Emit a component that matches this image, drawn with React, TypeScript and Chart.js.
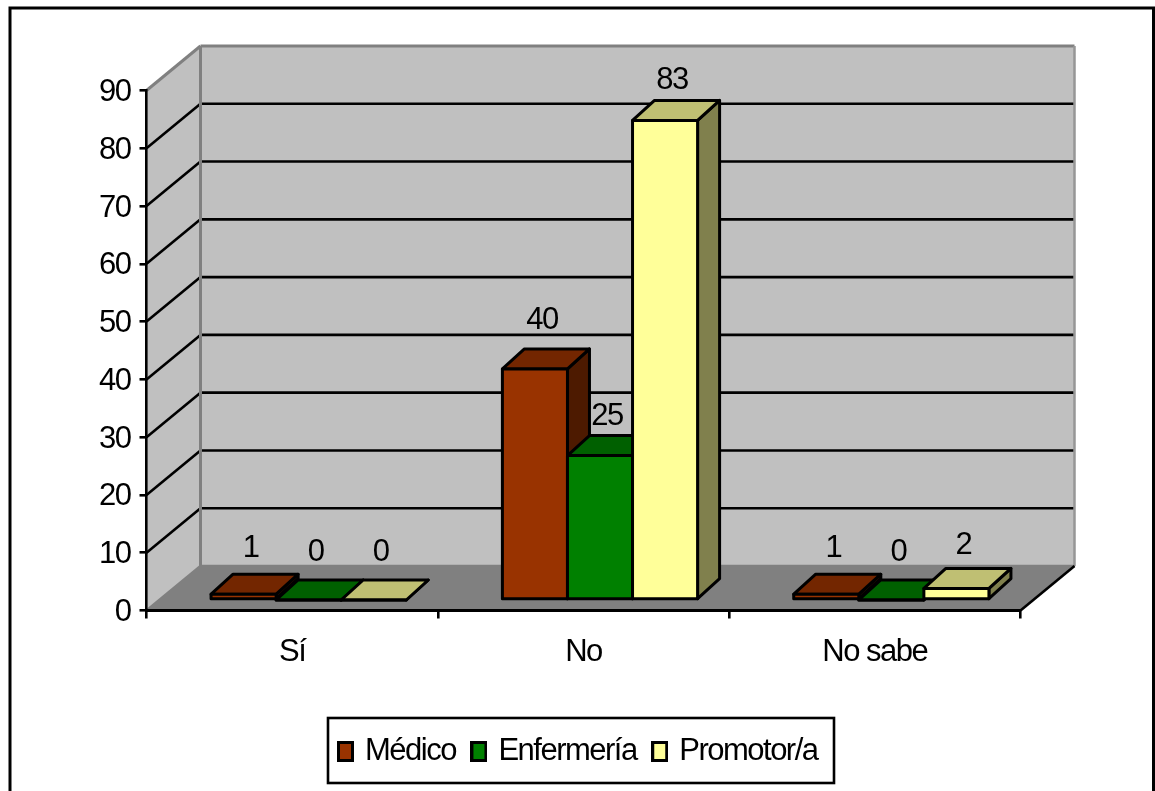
import React, { useEffect, useRef } from "react";
import { Chart, registerables } from "chart.js";

Chart.register(...registerables);

const categories = ["Sí", "No", "No sabe"];
const medico = [1, 40, 1];
const enfermeria = [0, 25, 0];
const promotor = [0, 83, 2];
const seriesNames = ["Médico", "Enfermería", "Promotor/a"];
const yTicksMax = 90;
const yTickStep = 10;

// Shades of each series: front face, top face, side face.
const frontColors = ["#993300", "#008000", "#FFFF99"];
const topColors = ["#732600", "#006000", "#BFBF73"];
const sideColors = ["#4D1A00", "#004000", "#80804D"];

// Value labels sit a little above the bar, lift in pixels per series and category.
const labelLift = [
  [46, 48, 46],
  [48, 39, 48],
  [48, 40, 43],
];

const FONT = '"Liberation Sans", Arial, sans-serif';
const FONT_SIZE = 31;
const TRACKING = "-1.5px";
const WALL_DEPTH = { x: 54, y: -44.5 }; // floor front edge to back wall
const BAR_OFFSET = { x: 16.5, y: -10.5 }; // axis plane to the plane of the bars
const BAR_DEPTH = { x: 22, y: -20 };
const LEGEND_FRAME = { x: 328, y: 718, w: 506, h: 65 };
const INK = "#000000";
const LINE = 2.6;
const BAR_LINE = 3;

const path = (ctx: any, pts: number[][], fill: string | null, stroke: string | null, width = LINE) => {
  ctx.beginPath();
  pts.forEach((p, i) => (i ? ctx.lineTo(p[0], p[1]) : ctx.moveTo(p[0], p[1])));
  ctx.closePath();
  if (fill) {
    ctx.fillStyle = fill;
    ctx.fill();
  }
  if (stroke) {
    ctx.strokeStyle = stroke;
    ctx.lineWidth = width;
    ctx.lineJoin = "round";
    ctx.stroke();
  }
};

const segment = (ctx: any, a: number[], b: number[], color: string, width = LINE) => {
  ctx.beginPath();
  ctx.moveTo(a[0], a[1]);
  ctx.lineTo(b[0], b[1]);
  ctx.strokeStyle = color;
  ctx.lineWidth = width;
  ctx.stroke();
};

// Legend swatch: a small outlined upright rectangle.
const makeSwatch = (color: string) => {
  const c = document.createElement("canvas");
  c.width = 17;
  c.height = 21;
  const g = c.getContext("2d") as CanvasRenderingContext2D;
  g.fillStyle = color;
  g.fillRect(1.5, 1.5, 14, 18);
  g.strokeStyle = INK;
  g.lineWidth = 3;
  g.strokeRect(1.5, 1.5, 14, 18);
  return c;
};

// Tightens all text drawn on the canvas; runs before measuring and before painting.
const trackingPlugin = {
  id: "tracking",
  beforeLayout(chart: any) {
    chart.ctx.letterSpacing = TRACKING;
  },
  beforeDraw(chart: any) {
    chart.ctx.letterSpacing = TRACKING;
  },
};

// Page frame, side wall, back wall, floor and the gridlines running across the walls.
const roomPlugin = {
  id: "room",
  beforeDraw(chart: any) {
    const { ctx, scales } = chart;
    const { x: xs, y: ys } = scales;
    const dx = WALL_DEPTH.x;
    const dy = WALL_DEPTH.y;
    const l = xs.left;
    const r = xs.right;
    const b = ys.getPixelForValue(0);
    const t = ys.getPixelForValue(yTicksMax);
    ctx.save();
    ctx.fillStyle = "#FFFFFF";
    ctx.fillRect(0, 0, chart.width, chart.height);
    ctx.strokeStyle = INK;
    ctx.lineWidth = 3;
    ctx.strokeRect(10, 8, 1143.5, 820);

    path(ctx, [[l, b], [l + dx, b + dy], [l + dx, t + dy], [l, t]], "#C0C0C0", null);
    path(ctx, [[l + dx, t + dy], [r + dx, t + dy], [r + dx, b + dy], [l + dx, b + dy]], "#C0C0C0", null);
    path(ctx, [[l, b], [l + dx, b + dy], [r + dx, b + dy], [r, b]], "#808080", null);

    for (let v = yTickStep; v < yTicksMax; v += yTickStep) {
      const y = ys.getPixelForValue(v);
      segment(ctx, [l, y], [l + dx, y + dy], INK);
      segment(ctx, [l + dx, y + dy], [r + dx, y + dy], INK);
    }

    segment(ctx, [l, t], [l + dx, t + dy], "#808080", 3);
    segment(ctx, [l + dx, t + dy], [r + dx, t + dy], "#808080", 3);
    segment(ctx, [l + dx, t + dy], [l + dx, b + dy], "#808080", 3);
    segment(ctx, [r + dx, t + dy], [r + dx, b + dy], "#969696", 2.5);
    segment(ctx, [l + dx, b + dy], [r + dx, b + dy], "#808080", 2.5);
    segment(ctx, [l, b], [l + dx, b + dy], "#808080", 2.5);
    segment(ctx, [r, b], [r + dx, b + dy], INK);
    ctx.restore();
  },
};

// Extruded bars: drawn series by series from the left so later bars overlap earlier ones.
const bars3dPlugin = {
  id: "bars3d",
  beforeDatasetDraw() {
    return false;
  },
  afterDatasetsDraw(chart: any) {
    const { ctx } = chart;
    const ex = BAR_DEPTH.x;
    const ey = BAR_DEPTH.y;
    ctx.save();
    ctx.translate(BAR_OFFSET.x, BAR_OFFSET.y);
    chart.data.datasets.forEach((_: any, si: number) => {
      const meta = chart.getDatasetMeta(si);
      meta.data.forEach((el: any) => {
        const l = el.x - el.width / 2;
        const r = el.x + el.width / 2;
        const t = el.y;
        const b = el.base;
        path(ctx, [[r, t], [r + ex, t + ey], [r + ex, b + ey], [r, b]], sideColors[si], INK, BAR_LINE);
        path(ctx, [[l, t], [l + ex, t + ey], [r + ex, t + ey], [r, t]], topColors[si], INK, BAR_LINE);
      });
      meta.controller.draw();
      meta.data.forEach((el: any) => {
        const l = el.x - el.width / 2;
        const r = el.x + el.width / 2;
        path(ctx, [[l, el.y], [r, el.y], [r, el.base], [l, el.base]], null, INK, BAR_LINE);
      });
    });
    ctx.fillStyle = INK;
    ctx.font = `${FONT_SIZE}px ${FONT}`;
    ctx.textAlign = "center";
    ctx.textBaseline = "middle";
    chart.data.datasets.forEach((ds: any, si: number) => {
      chart.getDatasetMeta(si).data.forEach((el: any, ci: number) => {
        ctx.fillText(String(ds.data[ci]), el.x + 7, el.y - labelLift[si][ci]);
      });
    });
    ctx.restore();
  },
};

// Moves the legend inside its outlined box and draws the outline.
const legendFramePlugin = {
  id: "legendFrame",
  afterLayout(chart: any) {
    const lg = chart.legend;
    lg.left = LEGEND_FRAME.x - 100;
    lg.right = LEGEND_FRAME.x + LEGEND_FRAME.w + 97;
    lg.top = LEGEND_FRAME.y - 1;
  },
  afterDraw(chart: any) {
    const { ctx } = chart;
    ctx.save();
    ctx.strokeStyle = INK;
    ctx.lineWidth = 2.6;
    ctx.strokeRect(LEGEND_FRAME.x, LEGEND_FRAME.y, LEGEND_FRAME.w, LEGEND_FRAME.h);
    ctx.restore();
  },
};

export default function App() {
  const ref = useRef<HTMLCanvasElement>(null);
  useEffect(() => {
    const series = [medico, enfermeria, promotor];
    const swatches = frontColors.map(makeSwatch);
    const chart = new Chart(ref.current as any, {
      type: "bar",
      data: {
        labels: categories,
        datasets: series.map((data, i) => ({
          label: seriesNames[i],
          data,
          backgroundColor: frontColors[i],
          borderWidth: 0,
          categoryPercentage: 0.67,
          barPercentage: 1,
        })),
      },
      options: {
        responsive: false,
        animation: false,
        layout: { padding: { left: 0, right: 134.5, top: 90.5, bottom: 0 } },
        plugins: {
          tooltip: { enabled: false },
          title: { display: false },
          legend: {
            position: "bottom",
            labels: {
              color: INK,
              font: { family: FONT, size: FONT_SIZE },
              usePointStyle: true,
              boxWidth: 8,
              boxHeight: 18,
              padding: 19,
              generateLabels: () =>
                seriesNames.map((text, i) => ({
                  text,
                  pointStyle: swatches[i],
                  fillStyle: frontColors[i],
                  strokeStyle: INK,
                  lineWidth: 3,
                  datasetIndex: i,
                  fontColor: INK,
                })),
            },
          },
        },
        scales: {
          x: {
            afterFit: (s: any) => {
              s.height = 120.5;
            },
            grid: { drawOnChartArea: false, color: INK, lineWidth: LINE, tickLength: 8 },
            border: { color: INK, width: 3 },
            ticks: { color: INK, font: { family: FONT, size: FONT_SIZE }, padding: 15, maxRotation: 0 },
          },
          y: {
            min: 0,
            max: yTicksMax,
            afterFit: (s: any) => {
              s.width = 146.5;
            },
            grid: { drawOnChartArea: false, color: INK, lineWidth: LINE, tickLength: 7 },
            border: { color: INK, width: LINE },
            ticks: {
              stepSize: yTickStep,
              color: INK,
              font: { family: FONT, size: FONT_SIZE },
              padding: 9,
              labelOffset: 2,
            },
          },
        },
      },
      plugins: [trackingPlugin, roomPlugin, bars3dPlugin, legendFramePlugin],
    } as any);
    return () => chart.destroy();
  }, []);
  return (
    <canvas
      ref={ref}
      width={1155}
      height={791}
      style={{ position: "absolute", left: 0, top: 0, display: "block" }}
    />
  );
}
